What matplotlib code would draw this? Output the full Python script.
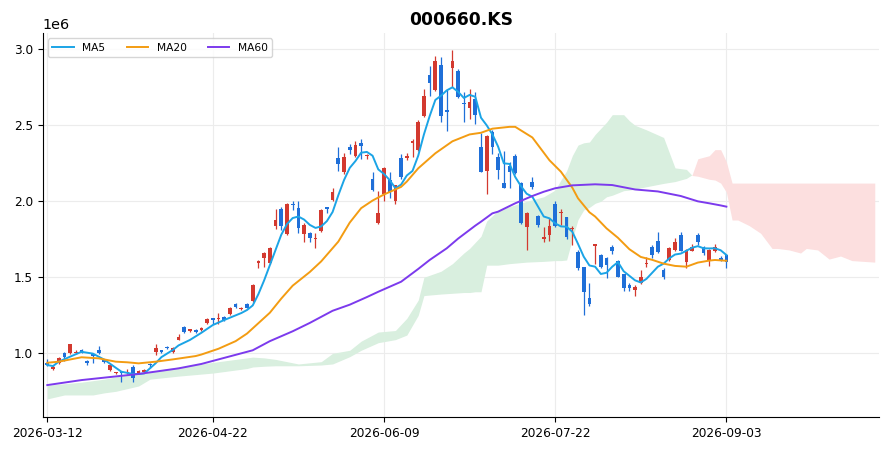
import numpy as np
import matplotlib
matplotlib.use('Agg')
import matplotlib.pyplot as plt

ticker = '000660.KS'
tick_labels = ['2026-03-12', '2026-04-22', '2026-06-09', '2026-07-22', '2026-09-03']

# daily candles, values in millions of KRW
opens = [.935, .900, .935, 1.005, 1.0, 1.0, 1.025, .952, .99, 1.02,
         .96, .89, .87, .875, .87, .91, .873, .878, .925, 1.01,
         1.022, 1.04, 1.01, 1.09, 1.17, 1.148, 1.153, 1.153, 1.20, 1.228,
         1.225, 1.237, 1.26, 1.322, 1.29, 1.322, 1.345, 1.595, 1.63, 1.596,
         1.84, 1.95, 1.785, 1.985, 1.955, 1.785, 1.79, 1.75, 1.805, 1.962,
         2.01, 2.287, 2.195, 2.355, 2.30, 2.382, 2.295, 2.145, 1.86, 2.05,
         2.14, 2.0, 2.283, 2.285, 2.385, 2.337, 2.56, 2.83, 2.73, 2.90,
         2.60, 2.875, 2.857, 2.645, 2.616, 2.675, 2.36, 2.20, 2.458, 2.293,
         2.122, 2.232, 2.30, 2.118, 1.833, 2.13, 1.903, 1.755, 1.778, 1.98,
         1.92, 1.895, 1.815, 1.668, 1.566, 1.362, 1.705, 1.647, 1.625, 1.697,
         1.61, 1.52, 1.45, 1.416, 1.464, 1.588, 1.697, 1.739, 1.548, 1.614,
         1.68, 1.778, 1.603, 1.675, 1.778, 1.70, 1.61, 1.675, 1.63, 1.647]
highs = [.96, .92, .975, 1.01, 1.062, 1.025, 1.03, .955, .995, 1.045,
         .962, .93, .88, .878, .90, .925, .89, .90, .935, 1.06,
         1.025, 1.045, 1.04, 1.125, 1.18, 1.162, 1.157, 1.175, 1.23, 1.23,
         1.267, 1.245, 1.305, 1.33, 1.305, 1.33, 1.455, 1.615, 1.665, 1.70,
         1.95, 1.96, 1.99, 2.0, 2.0, 1.86, 1.80, 1.79, 1.95, 1.965,
         2.085, 2.36, 2.32, 2.38, 2.40, 2.41, 2.31, 2.19, 2.07, 2.225,
         2.19, 2.11, 2.31, 2.32, 2.41, 2.535, 2.74, 2.89, 2.955, 2.95,
         2.73, 2.995, 2.87, 2.72, 2.74, 2.72, 2.45, 2.435, 2.47, 2.315,
         2.33, 2.26, 2.31, 2.13, 1.93, 2.16, 1.91, 1.83, 1.89, 2.0,
         1.947, 1.90, 1.84, 1.68, 1.57, 1.46, 1.72, 1.655, 1.635, 1.71,
         1.615, 1.525, 1.46, 1.45, 1.55, 1.636, 1.71, 1.80, 1.56, 1.70,
         1.76, 1.80, 1.685, 1.72, 1.79, 1.705, 1.685, 1.72, 1.64, 1.655]
lows = [.915, .89, .93, .95, .998, .995, 1.0, .92, .935, .995,
        .935, .885, .865, .81, .865, .81, .87, .875, .905, .99,
        1.0, 1.03, 1.005, 1.085, 1.135, 1.14, 1.135, 1.15, 1.195, 1.19,
        1.19, 1.215, 1.255, 1.30, 1.285, 1.295, 1.34, 1.56, 1.57, 1.59,
        1.82, 1.81, 1.78, 1.945, 1.79, 1.73, 1.735, 1.69, 1.80, 1.925,
        2.0, 2.20, 2.18, 2.31, 2.29, 2.28, 2.28, 2.07, 1.85, 2.0,
        2.02, 1.985, 2.15, 2.27, 2.29, 2.33, 2.555, 2.69, 2.725, 2.52,
        2.46, 2.755, 2.68, 2.52, 2.54, 2.51, 2.19, 2.05, 2.31, 2.15,
        2.085, 2.09, 2.18, 1.85, 1.68, 2.08, 1.83, 1.735, 1.74, 1.83,
        1.844, 1.755, 1.71, 1.55, 1.25, 1.31, 1.587, 1.56, 1.495, 1.655,
        1.50, 1.41, 1.41, 1.38, 1.455, 1.566, 1.63, 1.66, 1.49, 1.61,
        1.67, 1.675, 1.56, 1.67, 1.715, 1.65, 1.575, 1.665, 1.61, 1.56]
closes = [.925, .912, .97, .978, 1.06, 1.008, 1.003, .935, .985, 1.0,
          .94, .925, .877, .872, .88, .84, .885, .892, .92, 1.037,
          1.008, 1.035, 1.035, 1.105, 1.14, 1.158, 1.14, 1.168, 1.225, 1.222,
          1.235, 1.22, 1.30, 1.307, 1.30, 1.30, 1.45, 1.605, 1.66, 1.695,
          1.88, 1.84, 1.98, 1.975, 1.826, 1.845, 1.757, 1.76, 1.943, 1.952,
          2.06, 2.245, 2.293, 2.337, 2.37, 2.366, 2.305, 2.074, 1.92, 2.22,
          2.063, 2.107, 2.158, 2.295, 2.395, 2.524, 2.69, 2.776, 2.925, 2.56,
          2.59, 2.925, 2.684, 2.64, 2.653, 2.568, 2.195, 2.43, 2.355, 2.206,
          2.086, 2.195, 2.188, 1.855, 1.92, 2.096, 1.844, 1.765, 1.837, 1.837,
          1.928, 1.763, 1.82, 1.56, 1.405, 1.324, 1.72, 1.57, 1.58, 1.675,
          1.504, 1.428, 1.428, 1.434, 1.50, 1.596, 1.647, 1.668, 1.504, 1.69,
          1.734, 1.675, 1.68, 1.697, 1.734, 1.66, 1.68, 1.697, 1.614, 1.603]

# moving averages (index, value in millions)
ma5_idx = [0, 1, 2, 4, 6, 8, 10, 12, 13, 15, 16, 17, 19, 20, 22, 23, 25, 27, 29, 31,
           34, 35, 36, 37, 38, 39, 40, 41, 42, 43, 44, 45, 46, 47, 48, 49, 50, 51, 52, 53,
           54, 55, 56, 57, 58, 59, 60, 61, 62, 63, 64, 65, 66, 67, 68, 69, 70, 71, 72, 73,
           74, 75, 76, 77, 78, 79, 80, 81, 82, 83, 84, 85, 86, 87, 88, 89, 90, 91, 92, 93,
           94, 95, 96, 97, 98, 99, 100, 101, 102, 103, 104, 105, 106, 107, 108, 109, 110,
           111, 112, 113, 114, 115, 116, 117, 118, 119]
ma5 = [.923, .916, .945, .978, 1.01, .998, .958, .905, .879, .864, .864, .868, .935, .975,
       1.022, 1.052, 1.088, 1.135, 1.186, 1.219,
       1.265, 1.285, 1.315, 1.39, 1.48, 1.58, 1.68, 1.78, 1.85, 1.89, 1.90, 1.88, 1.845,
       1.825, 1.835, 1.87, 1.93, 2.04, 2.14, 2.22,
       2.265, 2.32, 2.325, 2.30, 2.21, 2.18, 2.14, 2.086, 2.11, 2.17, 2.20, 2.30, 2.44,
       2.56, 2.667, 2.695, 2.73, 2.75, 2.72, 2.68,
       2.70, 2.688, 2.55, 2.50, 2.44, 2.36, 2.25, 2.246, 2.16, 2.10, 2.05, 2.03, 1.965,
       1.90, 1.888, 1.855, 1.835, 1.833, 1.80, 1.72,
       1.636, 1.578, 1.57, 1.522, 1.53, 1.57, 1.60, 1.54, 1.51, 1.48, 1.466, 1.49, 1.53,
       1.57, 1.59, 1.625, 1.65,
       1.656, 1.675, 1.695, 1.705, 1.691, 1.69, 1.691, 1.678, 1.647]

ma20_idx = [0, 2, 6, 9, 12, 14, 16, 19, 22, 26, 27, 30, 33, 35, 39, 41, 43, 46, 48, 51,
            53, 55, 57, 59, 62, 63, 65, 68, 71, 74, 76, 78, 81, 82, 85, 87, 88, 90, 92, 93,
            95, 96, 98, 100, 102, 104, 106, 108, 110, 112, 114, 116, 117, 119]
ma20 = [.938, .945, .974, .967, .945, .941, .934, .945, .96, .982, .992, 1.03, 1.08, 1.13,
        1.267, 1.36, 1.445, 1.535, 1.605, 1.735,
        1.86, 1.955, 2.005, 2.045, 2.095, 2.13, 2.217, 2.316, 2.395, 2.44, 2.451, 2.478,
        2.49, 2.49, 2.42, 2.32, 2.27, 2.195, 2.09, 2.02,
        1.928, 1.90, 1.822, 1.76, 1.685, 1.634, 1.615, 1.59, 1.575, 1.57, 1.597, 1.61,
        1.614, 1.609]

ma60_idx = [0, 6, 16, 23, 27, 33, 36, 39, 43, 46, 50, 53, 56, 58, 62, 65, 67, 70, 72, 75,
            76, 78, 79, 82, 85, 87, 89, 92, 96, 99, 103, 107, 111, 114, 116, 118, 119]
ma60 = [.791, .824, .864, .901, .93, .99, 1.02, 1.08, 1.145, 1.20, 1.28, 1.32, 1.37,
        1.405, 1.471, 1.555, 1.614, 1.691, 1.755, 1.84,
        1.866, 1.921, 1.932, 1.987, 2.035, 2.063, 2.086, 2.105, 2.112, 2.107, 2.078,
        2.065, 2.035, 2.0, 1.987, 1.973, 1.965]

# ichimoku cloud, leading spans shifted 26 bars ahead
cloud_idx = [0, 3, 6, 8, 10, 12, 16, 18, 23, 29, 35, 36, 38, 40, 44, 48, 50, 53, 55, 58,
             61, 63, 65, 66, 69, 71, 73, 74, 75, 76, 77, 79, 81, 84, 87, 89, 90, 91, 92, 93,
             94, 95, 96, 97, 98, 99, 101, 102, 103, 105, 108, 110, 112, 113, 114, 115, 116,
             117, 118, 119, 120, 121, 123, 125, 127, 128, 130, 132, 133, 135, 136, 137, 139,
             141, 145]
span_a = [.79, .80, .81, .82, .83, .845, .87, .88, .91, .94, .97, .975, .97, .96, .93,
          .945, 1.0, 1.02, 1.08, 1.14,
          1.15, 1.23, 1.35, 1.50, 1.54, 1.59, 1.66, 1.69, 1.73, 1.77, 1.87, 1.94, 1.965,
          2.0, 2.03, 2.074, 2.14, 2.2, 2.3, 2.37,
          2.385, 2.39, 2.44, 2.48, 2.52, 2.57, 2.57, 2.53, 2.50, 2.47, 2.42, 2.22, 2.21,
          2.17, 2.165, 2.155, 2.145,
          2.14, 2.12, 2.06, 1.877, 1.877, 1.84, 1.79, 1.69, 1.69, 1.68, 1.66, 1.69, 1.68,
          1.65, 1.62, 1.64,
          1.61, 1.60]
span_b = [.70, .726, .726, .726, .74, .75, .785, .83, .85, .87, .90, .91, .915, .918,
          .918, .923, .93, .978, 1.02, 1.07,
          1.09, 1.12, 1.25, 1.38, 1.39, 1.395, 1.40, 1.40, 1.405, 1.405, 1.58, 1.58, 1.59,
          1.60, 1.605, 1.61, 1.61, 1.614, 1.75, 1.88,
          1.943, 1.96, 1.987, 2.0, 2.03, 2.04, 2.07, 2.074, 2.08, 2.096, 2.118, 2.13, 2.151,
          2.175, 2.28, 2.29, 2.30,
          2.34, 2.34, 2.26, 2.12, 2.12, 2.12, 2.12, 2.12, 2.12, 2.12, 2.12, 2.12, 2.12,
          2.12, 2.12, 2.12,
          2.12, 2.12]

UP = '#d3392f'
DOWN = '#1f6fd8'
M = 1e6

fig = plt.figure(figsize=(8.9, 4.51), dpi=100)
ax = fig.add_axes([0.048, 0.0747, 0.94, 0.852])

# cloud
cx = np.array(cloud_idx)
sa = np.array(span_a) * M
sb = np.array(span_b) * M
ax.fill_between(cx, sa, sb, where=sa >= sb, interpolate=True,
                color='#d9efdf', lw=0, zorder=1)
ax.fill_between(cx, sa, sb, where=sa < sb, interpolate=True,
                color='#fcdfdf', lw=0, zorder=1)

# candles
o = np.array(opens) * M
h = np.array(highs) * M
l = np.array(lows) * M
c = np.array(closes) * M
x = np.arange(len(c))
cols = np.where(c >= o, UP, DOWN)
ax.vlines(x, l, h, colors=cols, lw=0.9, zorder=3)
body = np.maximum(np.abs(c - o), 0.008 * M)
ax.bar(x, body, bottom=np.minimum(o, c), width=0.65, color=cols, lw=0, zorder=4)

# moving averages
ax.plot(ma5_idx, np.array(ma5) * M, color='#1ba4e6', lw=1.4, label='MA5', zorder=5)
ax.plot(ma20_idx, np.array(ma20) * M, color='#f39c12', lw=1.4, label='MA20', zorder=5)
ax.plot(ma60_idx, np.array(ma60) * M, color='#7c3aed', lw=1.4, label='MA60', zorder=5)

ax.set_xlim(-0.8, 145.8)
ax.set_ylim(0.579 * M, 3.107 * M)
ax.set_xticks(np.linspace(0, len(c) - 1, 5).astype(int))
ax.set_xticklabels(tick_labels)
ax.tick_params(labelsize=8.7)
ax.yaxis.get_offset_text().set_fontsize(10.4)

ax.grid(True, color='#ececec', lw=0.8)
ax.set_axisbelow(True)
for s in ['top', 'right']:
    ax.spines[s].set_visible(False)

ax.set_title(ticker, fontsize=12.3, fontweight='bold')
ax.legend(loc='upper left', ncol=3, fontsize=7.7)

fig.savefig('out.png', dpi=100)
